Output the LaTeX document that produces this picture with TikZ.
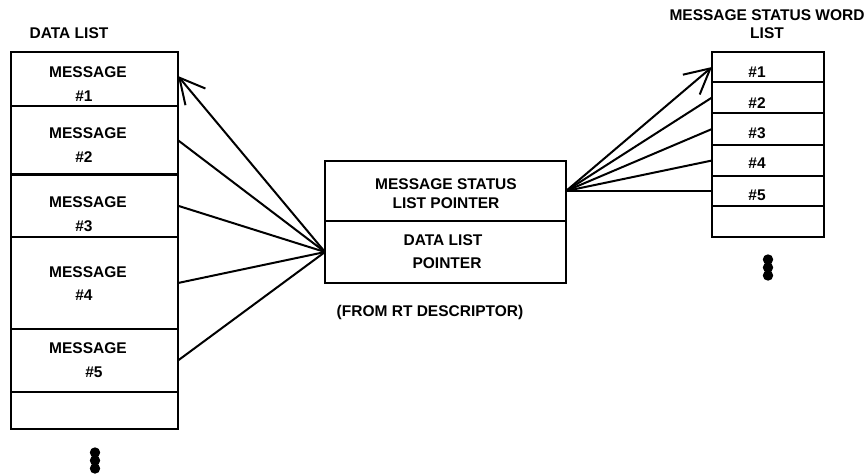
\documentclass[tikz,border=0pt]{standalone}
\usepackage{fontspec}
\setmainfont{Liberation Sans}
\usetikzlibrary{arrows.meta}
\begin{document}
\begin{tikzpicture}[x=1pt,y=-1pt,
  cell/.style={draw, line width=2.8pt, inner sep=0pt, outer sep=0pt},
  lcell/.style={cell, minimum width=167pt},
  rcell/.style={cell, minimum width=112pt},
  ccell/.style={cell, minimum width=241pt},
  txt/.style={font=\fontsize{15.5}{18}\selectfont\bfseries, inner sep=0pt, anchor=base},
  conn/.style={line width=2pt},
  barb/.style={-{Straight Barb[length=25pt,width=26pt]}},
  dot/.style={fill=black}]
\useasboundingbox (0,0) rectangle (866,474);
% left list
\node[lcell, minimum height=54pt]   (r1) at (94.5,79) {};
\node[lcell, minimum height=68.5pt] (r2) at (94.5,140.25) {};
\node[lcell, minimum height=62.5pt] (r3) at (94.5,205.75) {};
\node[lcell, minimum height=92pt]   (r4) at (94.5,283) {};
\node[lcell, minimum height=63pt]   (r5) at (94.5,360.5) {};
\node[lcell, minimum height=37pt]   (r6) at (94.5,410.5) {};
\node[txt] (tdl) at (69,38.6) {DATA LIST};
\node[txt] (m1) at (88,77.6) {MESSAGE};
\node[txt] (n1) at (84,101.6) {\#1};
\node[txt] (m2) at (88,138.6) {MESSAGE};
\node[txt] (n2) at (84,162.6) {\#2};
\node[txt] (m3) at (88,207.6) {MESSAGE};
\node[txt] (n3) at (84,231.6) {\#3};
\node[txt] (m4) at (88,277.6) {MESSAGE};
\node[txt] (n4) at (84,300.6) {\#4};
\node[txt] (m5) at (88,353.6) {MESSAGE};
\node[txt] (n5) at (94,377.6) {\#5};
% center box
\node[ccell, minimum height=60pt] (mp) at (445.5,191) {};
\node[ccell, minimum height=62pt] (dl) at (445.5,252) {};
\node[txt] (c1) at (446,189.6) {MESSAGE STATUS};
\node[txt] (c2) at (446,208.6) {LIST POINTER};
\node[txt] (c3) at (443,245.6) {DATA LIST};
\node[txt] (c4) at (447,268.6) {POINTER};
\node[txt] (frt) at (430,316.6) {(FROM RT DESCRIPTOR)};
% right list
\node[rcell, minimum height=30pt] (s1) at (768,67) {};
\node[rcell, minimum height=31pt] (s2) at (768,97.5) {};
\node[rcell, minimum height=32pt] (s3) at (768,129) {};
\node[rcell, minimum height=31pt] (s4) at (768,160.5) {};
\node[rcell, minimum height=30pt] (s5) at (768,191) {};
\node[rcell, minimum height=31pt] (s6) at (768,221.5) {};
\node[txt] (h1) at (767,20.6) {MESSAGE STATUS WORD};
\node[txt] (h2) at (767,38.6) {LIST};
\node[txt] (w1) at (757,77.3) {\#1};
\node[txt] (w2) at (757,108.9) {\#2};
\node[txt] (w3) at (757,138.9) {\#3};
\node[txt] (w4) at (757,168.9) {\#4};
\node[txt] (w5) at (757,200.6) {\#5};
% connectors left
\draw[conn,barb] (dl.west) -- ([yshift=3pt]r1.east);
\draw[conn] (dl.west) -- (r2.east);
\draw[conn] (dl.west) -- (r3.east);
\draw[conn] (dl.west) -- (r4.east);
\draw[conn] (dl.west) -- (r5.east);
% connectors right
\draw[conn,barb] (mp.east) -- (s1.west);
\draw[conn] (mp.east) -- (s2.west);
\draw[conn] (mp.east) -- (s3.west);
\draw[conn] (mp.east) -- (s4.west);
\draw[conn] (mp.east) -- (s5.west);
% ellipsis dots
\fill[dot] (95,452.5) circle (5.2);
\fill[dot] (95,460.5) circle (5.2);
\fill[dot] (95,468.5) circle (5.2);
\fill[dot] (768,259.5) circle (5.2);
\fill[dot] (768,267.5) circle (5.2);
\fill[dot] (768,275.5) circle (5.2);
\end{tikzpicture}
\end{document}
